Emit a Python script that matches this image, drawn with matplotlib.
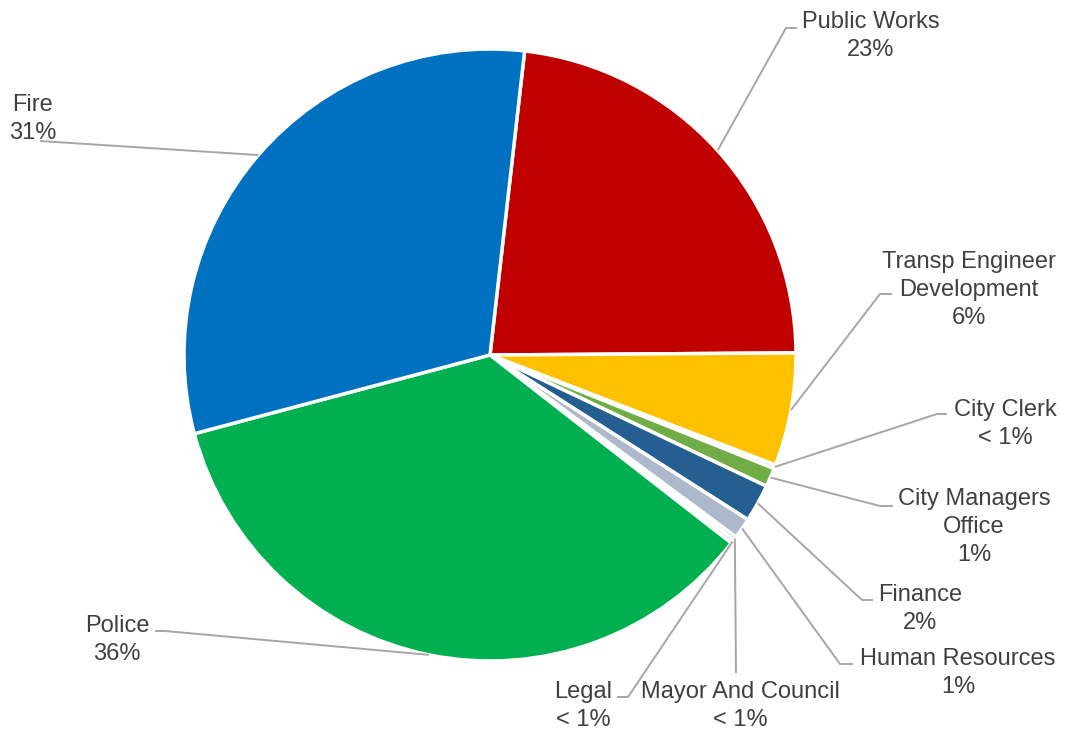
import numpy as np
import matplotlib
matplotlib.use("Agg")
import matplotlib.pyplot as plt

# ---- data ----
categories = ["Public Works", "Transp Engineer\nDevelopment", "City Clerk",
              "City Managers\nOffice", "Finance", "Human Resources",
              "Mayor And Council", "Legal", "Police", "Fire"]
values = [23.2, 6.0, 0.2, 1.0, 2.0, 1.1, 0.2, 0.2, 35.5, 31.1]
colors = ["#C00000", "#FFC000", "#5B9BD5", "#70AD47", "#255E91", "#ADB9CA",
          "#9E480E", "#636363", "#00B050", "#0070C0"]

# ---- layout (pixel coordinates, y measured from top) ----
W, H = 1065, 730
CX, CY, R = 490, 355, 306
START = 6.5  # degrees clockwise from 12 o'clock

# label text centre, elbow point, end point of leader
label_pos = [(871, 36), (969, 290), (1005, 424), (974, 527), (920, 609),
             (958, 673), (740, 706), (583, 706), (117, 640), (33, 119)]
elbows = [[(786, 28), (797, 28)],
          [(880, 294), (892, 294)],
          [(937, 414), (947, 414)],
          [(880, 506), (893, 506)],
          [(862, 600), (873, 600)],
          [(840, 664), (853, 664)],
          [(736, 673)],
          [(628, 697), (617, 697)],
          [(165, 631), (155, 631)],
          [(40, 141)]]


def pct_text(v):
    return "< 1%" if v < 1 else f"{round(v)}%"


fig = plt.figure(figsize=(W / 100, H / 100), dpi=100)
ax = fig.add_axes([0, 0, 1, 1])

wedges, _ = ax.pie(values, colors=colors, center=(CX, H - CY), radius=R,
                   startangle=90 - START, counterclock=False,
                   wedgeprops=dict(edgecolor="white", linewidth=2.5),
                   frame=True)
ax.set_xlim(0, W)
ax.set_ylim(0, H)
ax.set_aspect("equal")
ax.axis("off")

for w, cat, v, (lx, ly), pts in zip(wedges, categories, values, label_pos, elbows):
    mid = np.deg2rad((w.theta1 + w.theta2) / 2)
    ax_x = CX + R * np.cos(mid)
    ax_y = (H - CY) + R * np.sin(mid)
    xs = [ax_x] + [p[0] for p in pts]
    ys = [ax_y] + [H - p[1] for p in pts]
    ax.plot(xs, ys, color="#A6A6A6", lw=1.4, solid_capstyle="butt", zorder=1)
    ax.text(lx, H - ly, f"{cat}\n{pct_text(v)}", ha="center", va="center",
            multialignment="center", fontsize=17, color="#404040",
            family=["Liberation Sans", "DejaVu Sans"], linespacing=1.35)

fig.savefig("out.png", dpi=100, facecolor="white")
